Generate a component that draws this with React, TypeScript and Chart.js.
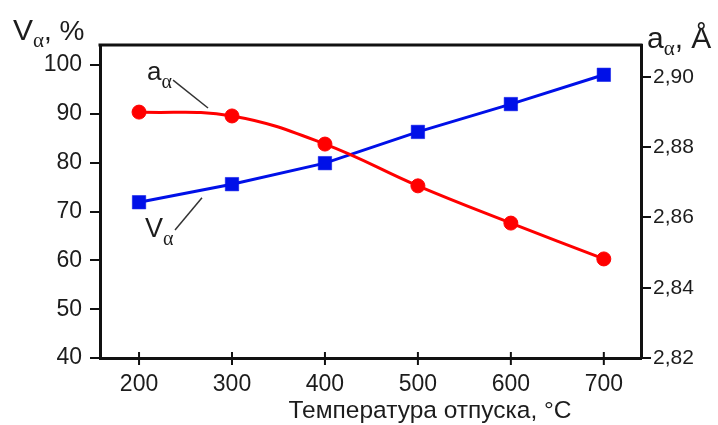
import React, { useEffect, useRef } from 'react';
import { Chart, registerables } from 'chart.js';

Chart.register(...registerables);

// ---- data ----
const temperatures = [200, 300, 400, 500, 600, 700];
const volumeAlpha = [71.9, 75.6, 79.9, 86.3, 92.0, 98.0]; // V_α, %
const latticeAlpha = [2.89, 2.8889, 2.8809, 2.869, 2.8584, 2.8482]; // a_α, Å
const xTickValues = [200, 300, 400, 500, 600, 700];
const leftTickValues = [40, 50, 60, 70, 80, 90, 100];
const rightTickValues = [2.82, 2.84, 2.86, 2.88, 2.9];
const xTitle = 'Температура отпуска, °C';

const SANS = '"Liberation Sans", Arial, sans-serif';
const SERIF = '"Liberation Serif", "Times New Roman", serif';
const INK = '#1c1c1c';

type Run = { text: string; font: string; dy?: number };

function drawRuns(ctx: CanvasRenderingContext2D, runs: Run[], x: number, y: number) {
  let cx = x;
  for (const r of runs) {
    ctx.font = r.font;
    ctx.fillText(r.text, cx, y + (r.dy || 0));
    cx += ctx.measureText(r.text).width;
  }
}

const decorPlugin = {
  id: 'decor',
  afterDraw(chart: any) {
    const ctx: CanvasRenderingContext2D = chart.ctx;
    const { left, right, top, bottom } = chart.chartArea;
    const xs = chart.scales.x;
    const yl = chart.scales.yLeft;
    ctx.save();
    // top frame line
    ctx.strokeStyle = '#111';
    ctx.lineWidth = 3;
    ctx.beginPath();
    ctx.moveTo(left - 1.5, top);
    ctx.lineTo(right + 1.5, top);
    ctx.stroke();
    // crossing ticks on x axis
    ctx.lineWidth = 2;
    xTickValues.forEach((v) => {
      const px = xs.getPixelForValue(v);
      ctx.beginPath();
      ctx.moveTo(px, bottom - 6);
      ctx.lineTo(px, bottom + 7);
      ctx.stroke();
    });

    // annotation leader lines (anchored in data space)
    ctx.strokeStyle = '#333';
    ctx.lineWidth = 1.5;
    ctx.beginPath();
    ctx.moveTo(xs.getPixelForValue(236.6), yl.getPixelForValue(96.9));
    ctx.lineTo(xs.getPixelForValue(274.2), yl.getPixelForValue(91.2));
    ctx.stroke();
    ctx.beginPath();
    ctx.moveTo(xs.getPixelForValue(238.7), yl.getPixelForValue(66.2));
    ctx.lineTo(xs.getPixelForValue(267.7), yl.getPixelForValue(72.8));
    ctx.stroke();

    ctx.fillStyle = INK;
    ctx.textBaseline = 'alphabetic';
    ctx.textAlign = 'left';
    // annotation labels
    drawRuns(
      ctx,
      [
        { text: 'a', font: `26px ${SANS}` },
        { text: 'α', font: `20px ${SERIF}`, dy: 8 },
      ],
      xs.getPixelForValue(208.6),
      yl.getPixelForValue(96.9)
    );
    drawRuns(
      ctx,
      [
        { text: 'V', font: `27px ${SANS}` },
        { text: 'α', font: `20px ${SERIF}`, dy: 8 },
      ],
      xs.getPixelForValue(206.5),
      yl.getPixelForValue(64.8)
    );

    // axis titles
    drawRuns(
      ctx,
      [
        { text: 'V', font: `30px ${SANS}` },
        { text: 'α', font: `21px ${SERIF}`, dy: 7 },
        { text: ', %', font: `28px ${SANS}` },
      ],
      13,
      40
    );
    drawRuns(
      ctx,
      [
        { text: 'a', font: `30px ${SANS}` },
        { text: 'α', font: `21px ${SERIF}`, dy: 7 },
        { text: ', Å', font: `30px ${SANS}` },
      ],
      647,
      48
    );
    ctx.font = `24.5px ${SANS}`;
    ctx.textAlign = 'center';
    ctx.fillText(xTitle, 430, 418);
    ctx.restore();
  },
};

export default function App() {
  const ref = useRef<HTMLCanvasElement | null>(null);

  useEffect(() => {
    document.body.style.margin = '0';
    const canvas = ref.current;
    if (!canvas) return;
    const chart = new Chart(canvas, {
      type: 'line',
      data: {
        datasets: [
          {
            label: 'a_α',
            data: temperatures.map((t, i) => ({ x: t, y: latticeAlpha[i] })),
            yAxisID: 'yRight',
            borderColor: '#ff0000',
            backgroundColor: '#ff0000',
            borderWidth: 3,
            tension: 0.4,
            pointStyle: 'circle',
            pointRadius: 7,
            pointBorderWidth: 1,
            pointBorderColor: '#ff0000',
            pointBackgroundColor: '#ff0000',
          },
          {
            label: 'V_α',
            data: temperatures.map((t, i) => ({ x: t, y: volumeAlpha[i] })),
            yAxisID: 'yLeft',
            borderColor: '#0010e8',
            backgroundColor: '#0010e8',
            borderWidth: 3,
            tension: 0,
            pointStyle: 'rect',
            pointRadius: 9.5,
            pointBorderWidth: 0.5,
            pointBorderColor: '#0010e8',
            pointBackgroundColor: '#0010e8',
          },
        ],
      },
      options: {
        responsive: false,
        animation: false,
        devicePixelRatio: 1,
        layout: { padding: { top: 45, left: 0, right: 0, bottom: 0 } },
        plugins: { legend: { display: false }, tooltip: { enabled: false } },
        scales: {
          x: {
            type: 'linear',
            min: 158,
            max: 740,
            afterBuildTicks: (s: any) => {
              s.ticks = xTickValues.map((v) => ({ value: v }));
            },
            afterFit: (s: any) => {
              s.height = 67;
            },
            border: { display: true, color: '#111', width: 3 },
            grid: { display: true, drawOnChartArea: false, drawTicks: false },
            ticks: {
              color: INK,
              font: { family: SANS, size: 23 },
              padding: 13,
              maxRotation: 0,
              autoSkip: false,
              callback: (v: any) => String(v),
            },
          },
          yLeft: {
            type: 'linear',
            position: 'left',
            min: 40,
            max: 104.1,
            afterBuildTicks: (s: any) => {
              s.ticks = leftTickValues.map((v) => ({ value: v }));
            },
            afterFit: (s: any) => {
              s.width = 100;
            },
            border: { display: true, color: '#111', width: 3 },
            grid: {
              display: true,
              drawOnChartArea: false,
              drawTicks: true,
              tickLength: 10,
              color: '#111',
              lineWidth: 2,
            },
            ticks: {
              color: INK,
              font: { family: SANS, size: 23 },
              padding: 8,
              autoSkip: false,
              callback: (v: any) => String(v),
            },
          },
          yRight: {
            type: 'linear',
            position: 'right',
            min: 2.82,
            max: 2.9091,
            afterBuildTicks: (s: any) => {
              s.ticks = rightTickValues.map((v) => ({ value: v }));
            },
            afterFit: (s: any) => {
              s.width = 77;
            },
            border: { display: true, color: '#111', width: 3 },
            grid: {
              display: true,
              drawOnChartArea: false,
              drawTicks: true,
              tickLength: 10,
              color: '#111',
              lineWidth: 2,
            },
            ticks: {
              color: INK,
              font: { family: SANS, size: 21 },
              padding: 2,
              autoSkip: false,
              callback: (v: any) => Number(v).toFixed(2).replace('.', ','),
            },
          },
        },
      },
      plugins: [decorPlugin],
    });
    return () => chart.destroy();
  }, []);

  return (
    <div style={{ position: 'fixed', left: 0, top: 0, width: 718, height: 425, background: '#fff' }}>
      <canvas ref={ref} width={718} height={425} style={{ display: 'block' }} />
    </div>
  );
}
